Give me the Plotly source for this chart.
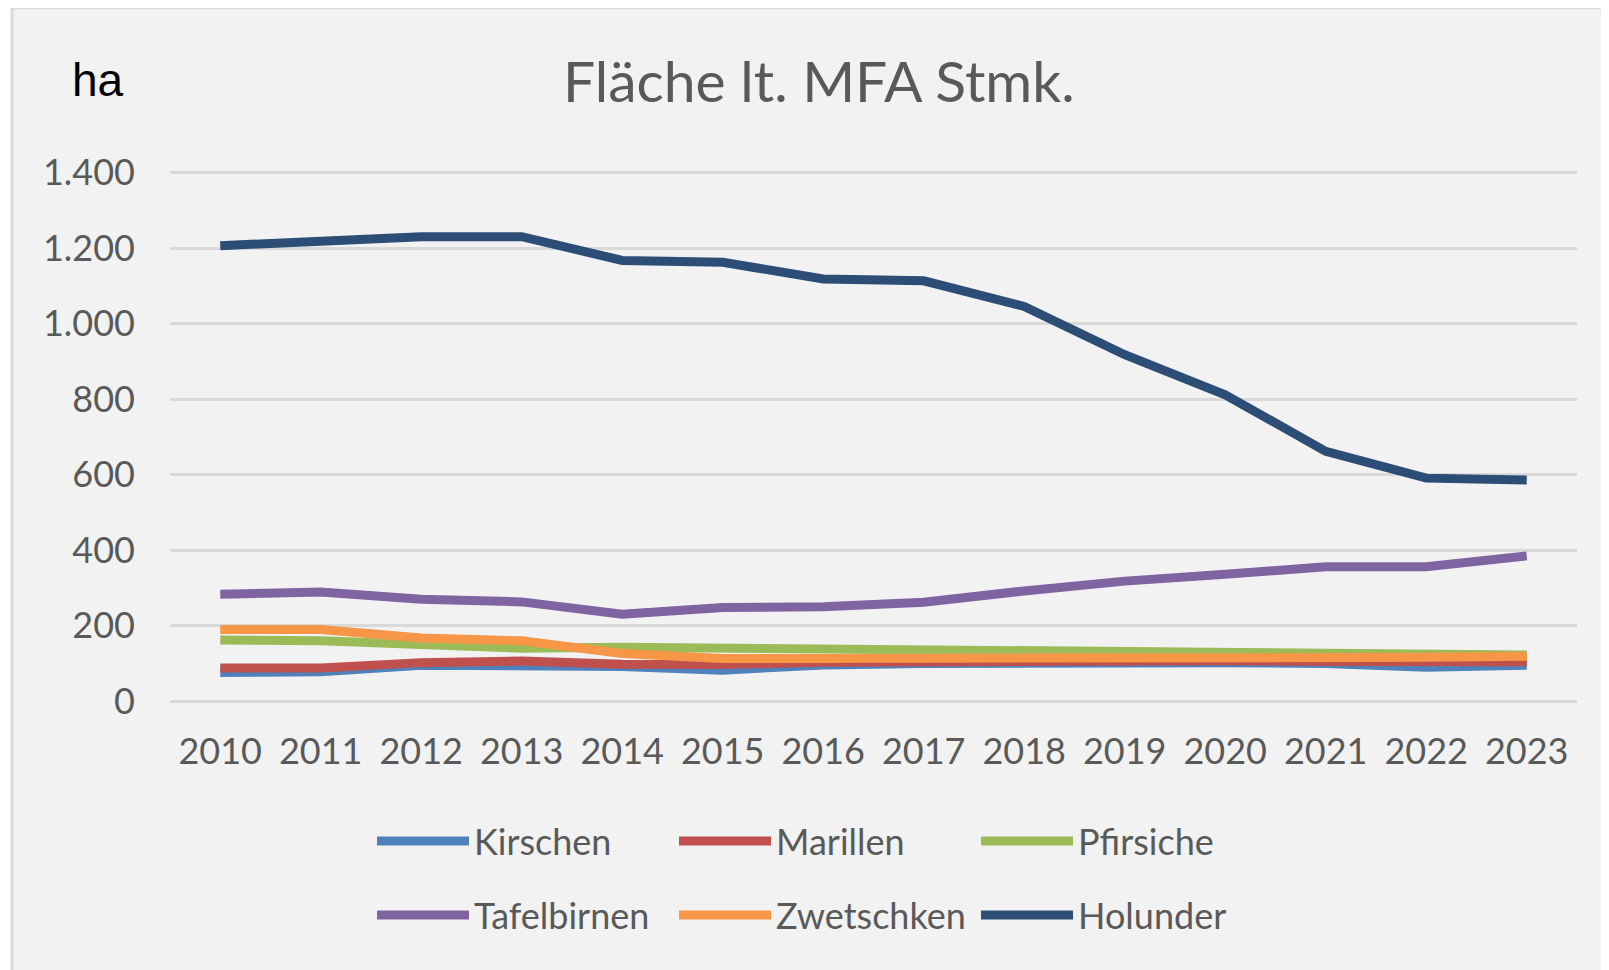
import plotly.graph_objects as go

years = ["2010", "2011", "2012", "2013", "2014", "2015", "2016", "2017", "2018", "2019", "2020", "2021", "2022", "2023"]
kirschen = [76, 78, 95, 95, 92, 82, 96, 100, 102, 100, 102, 100, 90, 95]
marillen = [88, 88, 102, 106, 98, 97, 103, 105, 105, 105, 107, 105, 103, 104]
pfirsiche = [162, 160, 150, 140, 143, 140, 137, 135, 134, 130, 128, 126, 123, 122]
tafelbirnen = [283, 289, 270, 263, 230, 248, 250, 262, 292, 318, 336, 356, 356, 385]
zwetschken = [190, 190, 167, 160, 126, 113, 113, 113, 113, 115, 115, 114, 116, 119]
holunder = [1207, 1220, 1231, 1231, 1168, 1163, 1119, 1114, 1046, 918, 812, 662, 591, 586]

series_names = ["Kirschen", "Marillen", "Pfirsiche", "Tafelbirnen", "Zwetschken", "Holunder"]
series_values = [kirschen, marillen, pfirsiche, tafelbirnen, zwetschken, holunder]
colors = ["#4F81BD", "#C0504D", "#9BBB59", "#8064A2", "#F79646", "#2C4D75"]

y_ticks = [0, 200, 400, 600, 800, 1000, 1200, 1400]
y_labels = ["0", "200", "400", "600", "800", "1.000", "1.200", "1.400"]

W, H = 1609, 970
OFF = 8  # page body margin offset
FONT = "Lato"
TXT = "#595959"

# plot area in page pixels
PL, PR, PT, PB = 170, 1577, 173, 701
YMIN, YMAX = 0, 1400
PADU = 5
k = (PB - PT) / (YMAX - YMIN)
pad_px = PADU * k

ML = PL - OFF
MR = W - (PR - OFF)
MT = PT - OFF - pad_px
MB = H - (PB - OFF) - pad_px

# legend positions in page px (left of symbol / vertical center)
leg_x = [372, 674, 976, 372, 674, 976]
leg_y = [841, 841, 841, 915, 915, 915]

fig = go.Figure()
for i, (name, vals, col) in enumerate(zip(series_names, series_values, colors)):
    lg = "legend" if i == 0 else f"legend{i+1}"
    fig.add_trace(go.Scatter(
        x=years, y=vals, name=name, mode="lines",
        line=dict(color=col, width=9),
        legend=lg,
    ))

pw = W - ML - MR
ph = H - MT - MB
def px_x(p):
    return (p - OFF - ML) / pw
def px_y(p):
    return (H - MB - (p - OFF)) / ph

shapes = [dict(type="rect", xref="paper", yref="paper", layer="below",
               x0=px_x(12), x1=px_x(W + 20), y0=px_y(H + 20), y1=px_y(8),
               fillcolor="#F2F2F2", line=dict(color="#D9D9D9", width=3))]

legends = {}
for i in range(6):
    key = "legend" if i == 0 else f"legend{i+1}"
    legends[key] = dict(
        x=(leg_x[i] - OFF) / W, y=1 - (leg_y[i] - OFF) / H, xref="container", yref="container",
        xanchor="left", yanchor="middle", orientation="h",
        bgcolor="rgba(0,0,0,0)", borderwidth=0,
        font=dict(family=FONT, size=36, color=TXT),
        itemwidth=92, itemclick=False, itemdoubleclick=False,
    )

fig.update_layout(
    width=W, height=H,
    margin=dict(l=ML, r=MR, t=MT, b=MB),
    paper_bgcolor="white", plot_bgcolor="rgba(0,0,0,0)",
    shapes=shapes,
    title=dict(text="Fläche lt. MFA Stmk.", x=(798 * 1609 / 1568 - OFF) / W, xanchor="center",
               y=1 - (82 - OFF) / H, yanchor="middle",
               font=dict(family=FONT, size=57, color=TXT)),
    annotations=[dict(text="ha", xref="paper", yref="paper", x=px_x(70), y=px_y(80),
                      xanchor="left", yanchor="middle", showarrow=False,
                      font=dict(family="Liberation Sans", size=46, color="black"))],
    showlegend=True,
    xaxis=dict(type="category", range=[-0.5, 13.5], showgrid=False, zeroline=False,
               showline=False, ticks="", tickfont=dict(family=FONT, size=36, color=TXT),
               ticklabelstandoff=24, fixedrange=True),
    yaxis=dict(range=[YMIN - PADU, YMAX + PADU], tickvals=y_ticks, ticktext=y_labels, showgrid=True,
               gridcolor="#D9D9D9", gridwidth=2.5, zeroline=False, showline=False, ticks="",
               tickfont=dict(family=FONT, size=36, color=TXT), ticklabelstandoff=34,
               fixedrange=True),
    **legends,
)

fig.write_html("out.html")
